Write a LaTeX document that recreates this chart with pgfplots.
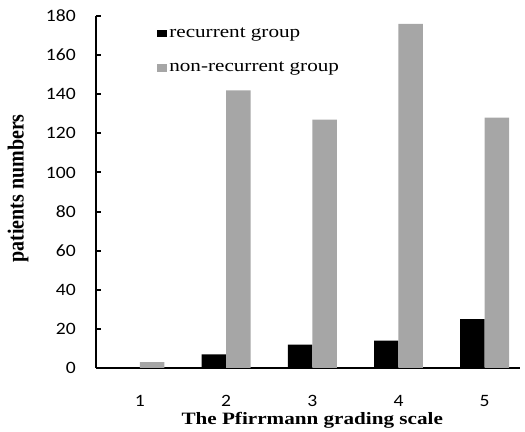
\documentclass[border=0pt]{standalone}
\usepackage{fontspec}
\setmainfont{Liberation Serif}
\newfontfamily\tickfont[FakeStretch=1.13]{Carlito}
\newfontfamily\widefont[FakeStretch=1.22]{Liberation Serif}
\usepackage{pgfplots}
\pgfplotsset{compat=1.18}
\definecolor{grayfill}{HTML}{A6A6A6}
\newcommand{\tf}{\tickfont\fontsize{13}{16}\selectfont}
\begin{document}
\begin{tikzpicture}
\useasboundingbox (-72pt,-48pt) rectangle (321.75pt,276pt);
\begin{axis}[
  at={(0pt,0pt)}, anchor=south west,
  scale only axis, width=318pt, height=264pt,
  xmin=0.49, xmax=5.41, ymin=0, ymax=180,
  axis x line*=bottom, axis y line*=left,
  axis line style={line width=1.9pt, -},
  xtick={1,2,3,4,5}, ytick={0,20,40,60,80,100,120,140,160,180},
  xticklabels={{\tf 1},{\tf 2},{\tf 3},{\tf 4},{\tf 5}},
  yticklabels={{\tf 0},{\tf 20},{\tf 40},{\tf 60},{\tf 80},{\tf 100},{\tf 120},{\tf 140},{\tf 160},{\tf 180}},
  x tick style={draw=none},
  y tick style={line width=1.5pt, black},
  tick align=inside, major tick length=4pt,
  xticklabel style={anchor=north, inner sep=0pt, yshift=-20.5pt},
  yticklabel style={anchor=east, inner sep=0pt, xshift=-15pt},
  xlabel={\widefont\fontsize{13}{16}\selectfont\bfseries The Pfirrmann grading scale},
  ylabel={\scalebox{1}[1.15]{\fontsize{15}{18}\selectfont\bfseries patients numbers}},
  xlabel style={at={(axis description cs:0.51,-0.124)}, anchor=north, inner sep=0pt},
  ylabel style={at={(axis description cs:-0.184,0.51)}, anchor=center, inner sep=0pt},
  legend style={draw=none, fill=none, at={(axis description cs:0.144,0.975)}, anchor=north west,
    inner sep=0pt, font=\widefont\fontsize{13}{16}\selectfont, row sep=13pt},
  legend cell align=left,
  legend image code/.code={\fill[#1] (0pt,-2.9pt) rectangle (7pt,2.9pt);},
]
\addplot[ybar, fill=black, draw=none, bar width=0.284, bar shift=-0.142]
  coordinates {(1,0) (2,7) (3,12) (4,14) (5,25)};
\addlegendentry{recurrent group}
\addplot[ybar, fill=grayfill, draw=none, bar width=0.284, bar shift=0.142]
  coordinates {(1,3) (2,142) (3,127) (4,176) (5,128)};
\addlegendentry{non-recurrent group}
\end{axis}
\end{tikzpicture}
\end{document}
